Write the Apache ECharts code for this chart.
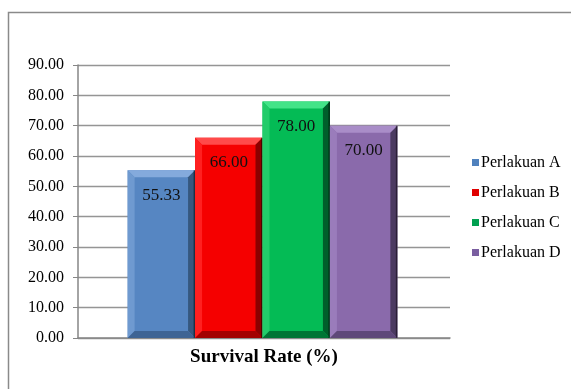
<!DOCTYPE html>
<html>
<head>
<meta charset="utf-8">
<script src="https://cdn.jsdelivr.net/npm/echarts@6/dist/echarts.min.js"></script>
<style>
  html, body { margin: 0; padding: 0; background: #fff; }
  #chart { width: 571px; height: 389px; }
</style>
</head>
<body>
<div id="chart"></div>
<script>
// Survival rate per treatment
const categories = ['Survival Rate (%)'];
const seriesNames = ['Perlakuan A', 'Perlakuan B', 'Perlakuan C', 'Perlakuan D'];
const survivalValues = [55.33, 66.00, 78.00, 70.00];
const yTicks = { min: 0, max: 90, interval: 10 };

// Bevel palettes: face, top, left, right, bottom
const palettes = [
  { face: '#5686c2', top: '#84aadc', left: '#6f9ad0', right: '#36587f', bottom: '#3e6494', legend: '#4f81bd' },
  { face: '#f50000', top: '#ff4a4a', left: '#ff2020', right: '#8c0000', bottom: '#a30000', legend: '#e00000' },
  { face: '#04bb55', top: '#43e488', left: '#22cc6a', right: '#005f2b', bottom: '#007535', legend: '#00a050' },
  { face: '#8a6aab', top: '#a98dc8', left: '#9a7cbb', right: '#4b3a61', bottom: '#5e4879', legend: '#7a5ea0' }
];

const SERIF = '"Liberation Serif", "Times New Roman", serif';
const GROUP_FRACTION = 0.725;
const BEVEL = 7;

function makeRenderer(idx) {
  return function (params, api) {
    const cat = api.value(0);
    const val = api.value(1);
    const base = api.coord([cat, 0]);
    const top = api.coord([cat, val]);
    const band = api.size([1, 0])[0];
    const w = band * GROUP_FRACTION / seriesNames.length;
    const x0 = base[0] - (band * GROUP_FRACTION) / 2 + idx * w - 1.5;
    const x1 = x0 + w;
    const yT = top[1];
    const yB = base[1];
    const b = BEVEL;
    const p = palettes[idx];
    const poly = (pts, fill) => ({ type: 'polygon', shape: { points: pts }, style: { fill: fill } });
    return {
      type: 'group',
      children: [
        {
          type: 'rect',
          shape: { x: x0, y: yT, width: w, height: yB - yT },
          style: { fill: p.face }
        },
        poly([[x0, yT], [x1, yT], [x1 - b, yT + b], [x0 + b, yT + b]], p.top),
        poly([[x0, yT], [x0 + b, yT + b], [x0 + b, yB - b], [x0, yB]], p.left),
        poly([[x1, yT], [x1, yB], [x1 - b, yB - b], [x1 - b, yT + b]], p.right),
        poly([[x0, yB], [x1, yB], [x1 - b, yB - b], [x0 + b, yB - b]], p.bottom),
        {
          type: 'rect',
          shape: { x: x1 - 1.5, y: yT, width: 1.5, height: yB - yT },
          style: { fill: 'rgba(0,0,0,0.45)' }
        },
        {
          type: 'text',
          style: {
            text: val.toFixed(2),
            x: (x0 + x1) / 2,
            y: yT + 25,
            align: 'center',
            verticalAlign: 'middle',
            font: '17px ' + SERIF,
            fill: '#111'
          }
        }
      ]
    };
  };
}

const series = seriesNames.map((name, i) => ({
  name: name,
  type: 'custom',
  renderItem: makeRenderer(i),
  itemStyle: { color: palettes[i].legend },
  encode: { x: 0, y: 1 },
  data: [[0, survivalValues[i]]],
  z: 3
}));

const chart = echarts.init(document.getElementById('chart'), null, { renderer: 'canvas' });
chart.setOption({
  animation: false,
  backgroundColor: '#ffffff',
  grid: { left: 78, right: 121, top: 65, bottom: 51 },
  graphic: [
    {
      type: 'polyline',
      shape: { points: [[8.5, 389], [8.5, 12.5], [571, 12.5]] },
      style: { stroke: '#8a8a8a', lineWidth: 1.5, fill: null },
      silent: true
    }
  ],
  legend: {
    orient: 'vertical',
    left: 467,
    top: 149,
    itemGap: 13,
    itemWidth: 7,
    itemHeight: 7,
    icon: 'rect',
    data: seriesNames,
    textStyle: {
      fontFamily: SERIF,
      fontSize: 16,
      lineHeight: 17,
      color: '#000',
      padding: [0, 0, 0, -3]
    }
  },
  xAxis: {
    type: 'category',
    data: categories,
    axisLine: { lineStyle: { color: '#868686', width: 1.5 } },
    axisTick: { show: false },
    axisLabel: {
      margin: 10,
      fontFamily: SERIF,
      fontSize: 19,
      fontWeight: 'bold',
      color: '#000'
    }
  },
  yAxis: {
    type: 'value',
    min: yTicks.min,
    max: yTicks.max,
    interval: yTicks.interval,
    axisLine: { show: true, lineStyle: { color: '#868686', width: 1.5 } },
    axisTick: { show: true, length: 5, lineStyle: { color: '#868686' } },
    splitLine: { lineStyle: { color: '#959595', width: 1.3 } },
    axisLabel: {
      margin: 14,
      formatter: v => v.toFixed(2),
      fontFamily: SERIF,
      fontSize: 16,
      color: '#000'
    }
  },
  series: series
});
</script>
</body>
</html>
